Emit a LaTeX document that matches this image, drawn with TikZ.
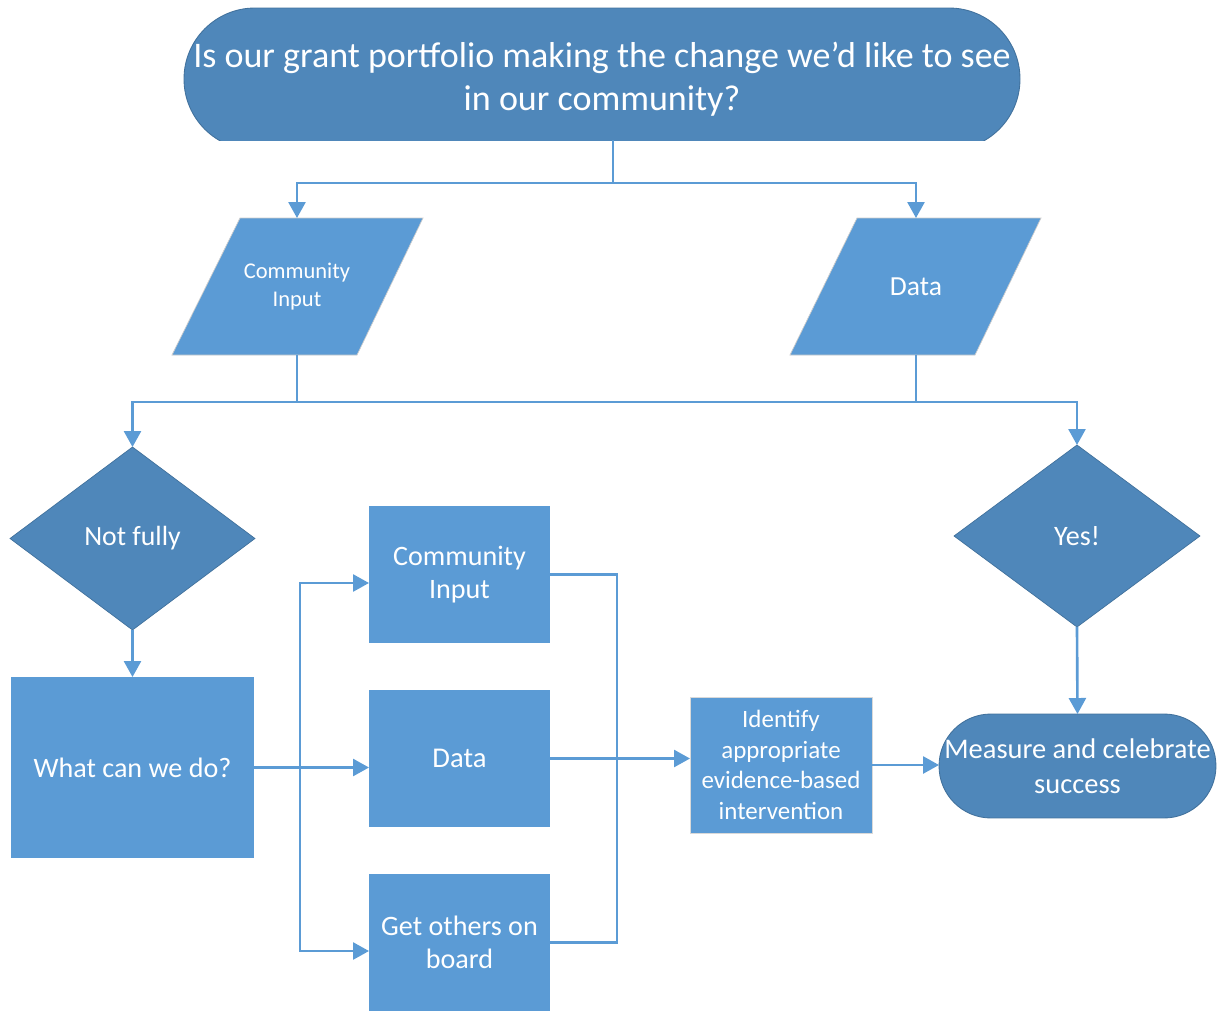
\documentclass[tikz,border=0pt]{standalone}
\usepackage{fontspec}
\setmainfont{Carlito}
\usetikzlibrary{arrows.meta,shapes.geometric,calc}
\definecolor{dk}{HTML}{4F87BA}
\definecolor{lt}{HTML}{5B9BD5}
\definecolor{edgec}{HTML}{41719C}
\begin{document}
\begin{tikzpicture}[x=0.02cm,y=-0.02cm,
  line/.style={draw=lt,line width=1.5pt},
  arr/.style={line,-{Triangle[length=0.32cm,width=0.34cm]}},
  txt/.style={text=white,align=center,inner sep=0pt,outer sep=0pt},
  boxn/.style={txt,fill=lt,minimum width=3.62cm,minimum height=2.74cm},
  dia/.style={txt,diamond,fill=dk,draw=edgec,line width=0.4pt,minimum width=4.9cm,minimum height=3.66cm},
  para/.style={fill=lt,draw=black!20,line width=0.4pt}]
\useasboundingbox (0,0) rectangle (1218,1011);
% top terminator
\begin{scope}
\clip (0,0) rectangle (1218,140);
\draw[fill=dk,draw=edgec,line width=0.5pt,rounded corners=1.42cm] (184,8) rectangle (1020,150);
\end{scope}
\node[txt,font=\fontsize{20.5}{24.5}\selectfont] (q) at (602,79) {Is our grant portfolio making the change we’d like to see\\in our community?};
\coordinate (qb) at (613,140);
\coordinate (j1) at (613,183);
% parallelograms
\draw[para] (240,218) -- (423,218) -- (357,355) -- (172,355) -- cycle;
\draw[para] (857,218) -- (1041,218) -- (975,355) -- (790,355) -- cycle;
\node[txt,minimum width=2cm,minimum height=2.74cm,font=\fontsize{12.8}{16}\selectfont] (pci) at (297,286.5) {Community\\Input};
\node[txt,minimum width=2cm,minimum height=2.74cm,font=\fontsize{15.7}{18}\selectfont] (pdata) at (916,286.5) {Data};
\draw[line] (qb) -- (j1);
\draw[arr] (j1) -| (pci.north);
\draw[arr] (j1) -| (pdata.north);
% decisions
\node[dia,font=\fontsize{15.8}{18}\selectfont] (nf) at (132.5,538.5) {Not fully};
\node[dia,minimum width=4.92cm,minimum height=3.64cm,font=\fontsize{16}{18}\selectfont] (yes) at (1077,536) {Yes!};
\coordinate (j2) at (297,402);
\coordinate (j3) at (916,402);
\draw[line] (pci.south) -- (j2);
\draw[line] (pdata.south) -- (j3);
\draw[line] (j2) -- (j3);
\draw[arr] (j2) -| (nf.north);
\draw[arr] (j3) -| (yes.north);
% what can we do
\node[boxn,minimum width=4.86cm,minimum height=3.62cm,font=\fontsize{16}{18}\selectfont] (what) at (132.5,767.5) {What can we do?};
\draw[arr] (nf.south) -- (what.north);
% three options
\node[boxn,font=\fontsize{16}{18.7}\selectfont] (cibox) at (459.5,574.5) {Community\\Input};
\node[boxn,font=\fontsize{16.3}{18.7}\selectfont] (dbox) at (459.5,758.5) {Data};
\node[boxn,font=\fontsize{16}{18.7}\selectfont] (gobox) at (459.5,942.5) {Get others on\\board};
\coordinate (jl) at ($(what.east)+(46,0)$);
\draw[arr] (what.east) -- (what.east -| dbox.west);
\draw[arr] (jl) |- ($(cibox.west)+(0,8.5)$);
\draw[arr] (jl) |- ($(gobox.west)+(0,8.5)$);
% identify
\node[boxn,minimum width=3.64cm,minimum height=2.72cm,draw=black!15,line width=0.4pt,font=\fontsize{14.2}{17.5}\selectfont] (idb) at (781,765) {Identify\\appropriate\\evidence-based\\intervention};
\coordinate (jr) at ($(dbox.east)+(67,0)$);
\draw[line] (cibox.east) -| (jr);
\draw[line] (gobox.east) -| (jr);
\draw[arr] (dbox.east) -- (dbox.east -| idb.west);
% measure
\node[txt,fill=dk,draw=edgec,line width=0.5pt,rounded corners=1.04cm,minimum width=5.54cm,minimum height=2.08cm,font=\fontsize{16.2}{19.8}\selectfont] (meas) at (1077.5,766) {Measure and celebrate\\success};
\draw[arr] (idb.east) -- (idb.east -| meas.west);
\draw[arr] (yes.south) -- (meas.north);
\end{tikzpicture}
\end{document}
